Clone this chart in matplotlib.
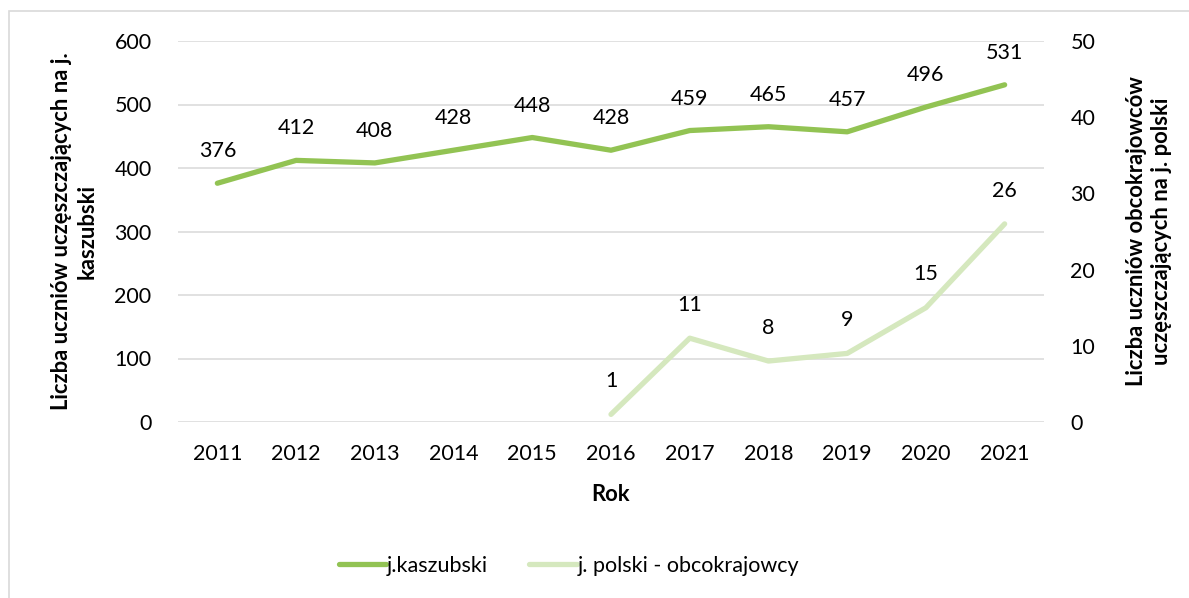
import numpy as np
import matplotlib
matplotlib.use("Agg")
import matplotlib.pyplot as plt
from matplotlib.patches import Rectangle

plt.rcParams['font.family'] = ['Lato', 'DejaVu Sans']

years = ["2011", "2012", "2013", "2014", "2015", "2016", "2017", "2018", "2019", "2020", "2021"]
kaszubski = [376, 412, 408, 428, 448, 428, 459, 465, 457, 496, 531]
obcokrajowcy = [None, None, None, None, None, 1, 11, 8, 9, 15, 26]

c_dark = '#92c353'
c_light = '#d5e8be'
grid_c = '#d9d9d9'
txt_c = '#000000'
fs = 15.5
fs_t = 15.8

fig = plt.figure(figsize=(11.89, 5.98), dpi=100)
fig.patches.append(Rectangle((9/1189, -0.1), 1.2, 1 - 11/598 + 0.1, transform=fig.transFigure,
                             fill=False, edgecolor='#d9d9d9', linewidth=1.2))

ax = fig.add_axes([178/1189, 1 - 422/598, (1044 - 178)/1189, (422 - 41)/598])
ax2 = ax.twinx()

x = np.arange(len(years))
ax.set_xlim(-0.5, len(years) - 0.5)
ax.set_ylim(0, 600)
ax.set_yticks(np.arange(0, 601, 100))
ax2.set_ylim(0, 50)
ax2.set_yticks(np.arange(0, 51, 10))

ax.grid(axis='y', color=grid_c, linewidth=1.1)
ax.set_axisbelow(True)
for a in (ax, ax2):
    for s in a.spines.values():
        s.set_visible(False)
    a.tick_params(length=0, labelsize=fs, colors=txt_c)
ax.tick_params(axis='y', pad=19)
ax2.tick_params(axis='y', pad=19)
ax.tick_params(axis='x', pad=16)
ax.set_xticks(x)
ax.set_xticklabels(years)

l1, = ax.plot(x, kaszubski, color=c_dark, lw=3.8, solid_capstyle='round', solid_joinstyle='round',
              label='j.kaszubski', zorder=3)
y2 = np.array([np.nan if v is None else v for v in obcokrajowcy], dtype=float)
l2, = ax2.plot(x, y2, color=c_light, lw=3.8, solid_capstyle='round', solid_joinstyle='round',
               label='j. polski - obcokrajowcy', zorder=3)

for xi, v in zip(x, kaszubski):
    ax.annotate(str(v), (xi, v), xytext=(0, 23), textcoords='offset points',
                ha='center', va='center', fontsize=fs, color=txt_c)
for xi, v in zip(x, obcokrajowcy):
    if v is not None:
        ax2.annotate(str(v), (xi, v), xytext=(0, 24), textcoords='offset points',
                     ha='center', va='center', fontsize=fs, color=txt_c)

ax.set_xlabel('Rok', fontsize=fs_t, fontweight='bold', labelpad=14)
ax.set_ylabel('Liczba uczniów uczęszczających na j.\nkaszubski', fontsize=fs_t, fontweight='bold',
              labelpad=12, linespacing=1.25)
ax2.set_ylabel('Liczba uczniów obcokrajowców\nuczęszczających na j. polski', fontsize=fs_t,
               fontweight='bold', labelpad=22, rotation=90, linespacing=1.25)

fig.legend(handles=[l1, l2], loc='center', bbox_to_anchor=(569/1189, 1 - 566/598), ncol=2,
           frameon=False, fontsize=fs, handlelength=2.2, columnspacing=1.9, handletextpad=0.05)

fig.savefig('out.png', dpi=100)
